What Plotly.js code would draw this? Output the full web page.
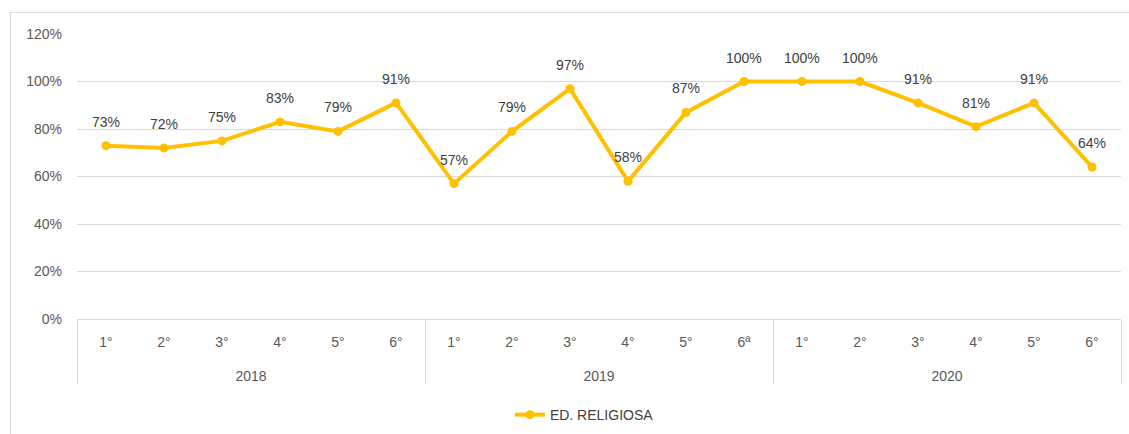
<!DOCTYPE html>
<html>
<head>
<meta charset="utf-8">
<script src="https://cdn.plot.ly/plotly-3.0.1.min.js"></script>
<style>
html,body{margin:0;padding:0;background:#fff;}
#frame{position:absolute;left:10px;top:12px;width:1140px;height:440px;border:1px solid #d9d9d9;box-sizing:border-box;pointer-events:none;}
#chart{position:absolute;left:0;top:0;width:1129px;height:434px;}
</style>
</head>
<body>
<div id="chart"></div>
<div id="frame"></div>
<script>
const years = ["2018","2018","2018","2018","2018","2018","2019","2019","2019","2019","2019","2019","2020","2020","2020","2020","2020","2020"];
const grades = ["1°","2°","3°","4°","5°","6°","1°","2°","3°","4°","5°","6ª","1°","2°","3°","4°","5°","6°"];
const values = [0.73,0.72,0.75,0.83,0.79,0.91,0.57,0.79,0.97,0.58,0.87,1.00,1.00,1.00,0.91,0.81,0.91,0.64];
const seriesName = "ED. RELIGIOSA";
const yTicks = [0,0.2,0.4,0.6,0.8,1.0,1.2];

const font = "Liberation Sans, Arial, sans-serif";
// a blank (taller) second line under each grade label gives the year row its extra spacing
const gradeLabels = grades.map(g => g + "<br><span style='font-size:38px'>&nbsp;</span>");
const trace = {
  type: "scatter",
  mode: "lines+markers",
  name: seriesName,
  x: [years, gradeLabels],
  y: values,
  line: {color: "#FFC000", width: 4},
  marker: {color: "#FFC000", size: 9},
  hoverinfo: "skip"
};
const annotations = values.map((v, i) => ({
  x: [years[i], gradeLabels[i]],
  y: v,
  xref: "x", yref: "y",
  text: Math.round(v * 100) + "%",
  showarrow: false,
  yanchor: "middle",
  yshift: 24,
  font: {family: font, size: 14, color: "#404040"}
}));
const layout = {
  width: 1129, height: 434,
  margin: {l: 77, r: 8, t: 34, b: 115, autoexpand: false},
  paper_bgcolor: "rgba(0,0,0,0)",
  plot_bgcolor: "#fff",
  showlegend: true,
  legend: {orientation: "h", x: 0.486, xanchor: "center", y: -0.337, yanchor: "middle",
           font: {family: font, size: 14, color: "#404040"}},
  xaxis: {
    type: "multicategory",
    automargin: false,
    range: [-0.5, values.length - 0.5],
    showgrid: false,
    showline: true, linecolor: "#d9d9d9", linewidth: 1,
    showdividers: true, dividercolor: "#d9d9d9", dividerwidth: 1,
    ticks: "",
    ticklabelstandoff: 10,
    tickfont: {family: font, size: 14, color: "#595959"}
  },
  yaxis: {
    range: [0, 1.2],
    automargin: false,
    tickvals: yTicks,
    tickformat: ".0%",
    showgrid: true, gridcolor: "#d9d9d9", gridwidth: 1,
    zeroline: false,
    showline: false,
    ticks: "",
    ticklabelstandoff: 14,
    tickfont: {family: font, size: 14, color: "#595959"}
  },
  annotations: annotations
};
Plotly.newPlot("chart", [trace], layout, {displayModeBar: false, staticPlot: true});
</script>
</body>
</html>
